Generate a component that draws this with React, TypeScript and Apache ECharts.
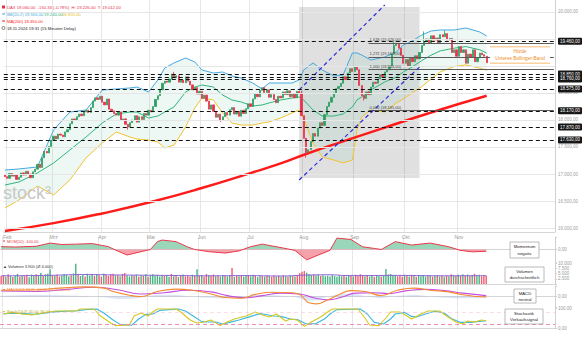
import React, { useEffect, useRef } from "react";
import * as echarts from "echarts";

// ---------- axis / category data ----------
const monthNames = ["Feb", "Mrz", "Apr", "Mai", "Jun", "Jul", "Aug", "Sep", "Okt", "Nov"];
const monthStart = [1, 21, 42, 63, 85, 106, 129, 151, 173, 196];
const SLOTS = 238;

// ---------- price data (daily closes) ----------
const firstOpen = 16980;
const closes = [
  16950, 16920, 17010, 16960, 16990, 16900, 16940, 17020, 16980, 17050,
  17000, 16930, 17040, 17090, 17180, 17120, 17300, 17420, 17390, 17510,
  17630, 17700, 17650, 17740, 17720, 17690, 17780, 17820, 17930, 18020,
  17990, 18060, 18110, 18080, 18150, 18180, 18140, 18230, 18350, 18410,
  18380, 18440, 18330, 18280, 18390, 18200, 18170, 18120, 18090, 18150,
  17990, 18020, 17920, 17870, 17950, 18000, 18080, 17960, 18060, 18010,
  18120, 18090, 18180, 18150, 18250, 18380, 18450, 18560, 18680, 18720,
  18700, 18760, 18850, 18780, 18820, 18700, 18740, 18690, 18800, 18720,
  18650, 18560, 18600, 18480, 18530, 18400, 18460, 18350, 18200, 18280,
  18160, 18050, 18110, 18000, 18060, 18140, 18090, 18190, 18230, 18110,
  18160, 18070, 18180, 18120, 18210, 18300, 18250, 18390, 18480, 18430,
  18550, 18600, 18510, 18560, 18420, 18470, 18380, 18320, 18440, 18410,
  18520, 18470, 18540, 18430, 18480, 18410, 18530, 18500, 18080, 17660,
  17400, 17450, 17600, 17750, 17700, 17850, 17950, 17900, 18100, 18250,
  18330, 18420, 18500, 18580, 18620, 18680, 18800, 18750, 18870, 18950,
  18900, 18980, 18930, 18640, 18450, 18400, 18520, 18470, 18610, 18700,
  18680, 18760, 18840, 18800, 18890, 18930, 19000, 19220, 19380, 19420,
  19330, 19200, 19050, 19120, 19000, 19150, 19080, 19190, 19130, 19250,
  19380, 19450, 19500, 19420, 19560, 19480, 19520, 19430, 19580, 19540,
  19600, 19480, 19510, 19250, 19300, 19180, 19360, 19250, 19300, 19050,
  19220, 19160, 19300, 19080, 19150, 19240, 19210, 19180, 19060,
];
const wickHighs = [[73, 18890], [128, 18540], [168, 19460], [181, 19640], [190, 19660]];
const wickLows = [[53, 17820], [93, 17960], [130, 17300], [155, 18360]];

const volumes = [
  3800, 4200, 3500, 4600, 3900, 3300, 4100, 4800, 3600, 4000,
  3700, 4400, 3200, 4500, 3900, 4700, 4300, 5200, 3800, 4600,
  4900, 7000, 4200, 3900, 4500, 3600, 4100, 4800, 4400, 3700,
  4200, 5000, 9600, 4400, 3800, 4300, 3600, 4900, 4100, 4500,
  3900, 4700, 4200, 3500, 5000, 4400, 3800, 4600, 4900, 4100,
  4300, 3700, 4800, 5200, 4000, 3600, 4200, 3900, 4500, 3400,
  4100, 3800, 4600, 3500, 4200, 4700, 3900, 4400, 3600, 4100,
  3800, 4300, 3500, 4800, 3700, 4200, 3400, 3900, 4500, 3600,
  4000, 3500, 4400, 3800, 7000, 3900, 4300, 3600, 4700, 4200,
  3800, 4500, 3700, 4100, 3500, 4300, 3900, 3600, 4200, 7600,
  3400, 4000, 3700, 4300, 3500, 3800, 4200, 3600, 4400, 3900,
  3300, 4100, 3700, 3500, 4200, 3800, 3400, 4000, 3600, 3900,
  3500, 4200, 3700, 3400, 4100, 3800, 3600, 4300, 5200, 5800,
  6200, 5400, 4800, 4300, 4600, 4000, 4400, 3900, 4200, 3700,
  4000, 3600, 4300, 3800, 3500, 4100, 3700, 3900, 3400, 4200,
  3800, 3600, 4400, 3900, 4700, 4100, 3700, 4300, 3600, 4000,
  3500, 4200, 3800, 3600, 4100, 7200, 4500, 4800, 3900, 4300,
  3700, 4100, 3500, 4400, 3800, 3600, 4200, 3900, 3500, 4000,
  3700, 4300, 3600, 3900, 4100, 3500, 3800, 4200, 3600, 3900,
  3500, 4000, 3700, 4600, 4200, 3800, 4400, 3900, 4700, 4100,
  4500, 3800, 4300, 4900, 4000, 4400, 3700, 4200, 3900,
];
const volumeAverage = [
  [0, 3900], [20, 4100], [35, 4500], [50, 4300], [70, 4100], [90, 3900], [105, 4000],
  [120, 3800], [130, 4200], [140, 4400], [150, 4000], [170, 4100], [190, 3900], [208, 4000],
];

// ---------- Bollinger bands (read) ----------
const bbIdx = [0, 6, 14, 21, 28, 35, 42, 48, 54, 57, 62, 66, 69, 73, 78, 82, 85, 90, 94, 98, 102, 107, 111, 114, 119, 124, 127, 129, 133, 137, 142, 146, 150, 152, 154, 158, 164, 169, 172, 175, 180, 184, 188, 194, 199, 205, 208];
const bbUpper = [17074, 17093, 17130, 17815, 18148, 18185, 18555, 18574, 18593, 18611, 18518, 18741, 18963, 19056, 19148, 19074, 18926, 18870, 18889, 18815, 18778, 18685, 18574, 18685, 18685, 18685, 18741, 18926, 19056, 18926, 18815, 18833, 19241, 19241, 19204, 19111, 19167, 19259, 19389, 19444, 19574, 19648, 19667, 19667, 19704, 19630, 19556];
const bbMiddle = [16796, 16852, 17019, 17204, 17444, 17685, 17944, 18110, 18148, 18148, 18037, 18074, 18148, 18241, 18518, 18611, 18648, 18611, 18463, 18370, 18333, 18259, 18278, 18315, 18370, 18407, 18426, 18370, 18185, 18074, 18074, 18111, 18241, 18370, 18426, 18556, 18704, 18796, 18890, 18960, 19100, 19200, 19280, 19330, 19360, 19300, 19240];
const bbLower = [16370, 16519, 16778, 16611, 16889, 17300, 17574, 17778, 17685, 17648, 17630, 17593, 17481, 17537, 17870, 18222, 18407, 18370, 18130, 17944, 17907, 17907, 17944, 17963, 18037, 18130, 18185, 18037, 17574, 17315, 17259, 17204, 17259, 17815, 18056, 18185, 18148, 18315, 18390, 18480, 18620, 18760, 18890, 18990, 19020, 18960, 18920];

const ma200 = [[0, 15944], [21, 16090], [42, 16270], [63, 16480], [85, 16740], [107, 17030], [120, 17210], [130, 17370], [145, 17590], [162, 17830], [184, 18140], [208, 18450]];

// ---------- indicators (read) ----------
const momentum = [[0, 160], [6, 140], [15, 180], [21, 360], [26, 280], [32, 300], [39, 330], [46, 160], [49, -30], [54, -310], [60, -120], [64, 0], [67, 440], [69, 530], [75, 440], [80, 140], [83, 0], [89, -120], [96, -200], [102, -80], [107, 160], [112, 300], [121, 80], [126, -50], [131, -580], [136, -310], [141, -50], [144, 640], [150, 560], [155, 150], [160, 60], [163, 0], [169, 440], [176, 250], [184, 360], [192, 150], [197, -50], [202, -130], [208, -100]];
const macdLine = [[0, 150], [15, 160], [25, 200], [36, 230], [44, 200], [48, 120], [55, 30], [60, 0], [67, 120], [75, 175], [82, 150], [90, 60], [96, -25], [103, -40], [109, 50], [116, 100], [124, 90], [128, 50], [132, -150], [135, -175], [140, -80], [145, 50], [150, 140], [156, 120], [163, 25], [170, 150], [177, 200], [184, 150], [192, 110], [198, 40], [204, 0], [208, -10]];
const macdSignal = [[0, 130], [15, 120], [28, 170], [40, 220], [50, 160], [60, 60], [70, 90], [80, 150], [90, 110], [97, 20], [105, -30], [112, 20], [120, 80], [128, 60], [134, -30], [140, -80], [146, -20], [152, 80], [160, 90], [166, 70], [174, 140], [182, 170], [190, 140], [198, 80], [208, 20]];
const macdHist = [[0, 20], [15, 40], [25, 30], [36, 10], [44, -20], [50, -60], [58, -50], [66, 40], [75, 40], [85, -20], [95, -50], [103, -20], [110, 40], [118, 30], [126, -10], [131, -100], [135, -100], [140, 0], [146, 70], [152, 60], [158, -10], [163, -40], [170, 20], [178, 40], [186, -10], [194, -40], [202, -40], [208, -30]];
const stochK = [[1, 70], [5, 78], [9, 70], [13, 65], [23, 85], [32, 85], [34, 95], [40, 95], [42, 65], [47, 25], [49, 12], [55, 15], [57, 60], [60, 75], [63, 60], [65, 80], [67, 95], [75, 95], [77, 80], [81, 40], [84, 25], [87, 30], [90, 40], [94, 12], [96, 25], [100, 45], [105, 60], [109, 80], [112, 65], [115, 55], [118, 70], [122, 35], [124, 45], [127, 40], [130, 8], [133, 30], [137, 55], [140, 80], [142, 95], [153, 95], [156, 50], [158, 15], [162, 12], [165, 50], [167, 80], [171, 80], [174, 60], [176, 45], [180, 70], [183, 85], [188, 85], [191, 60], [195, 30], [198, 20], [200, 35], [203, 30], [206, 40], [208, 35]];
const stochD = [[1, 72], [6, 74], [10, 72], [14, 68], [24, 82], [33, 86], [36, 92], [41, 95], [44, 75], [48, 40], [51, 18], [56, 14], [59, 45], [62, 68], [65, 70], [68, 88], [76, 95], [79, 85], [83, 55], [86, 32], [89, 30], [92, 30], [95, 20], [98, 28], [102, 40], [107, 58], [111, 72], [114, 66], [117, 60], [120, 58], [124, 45], [127, 42], [131, 20], [135, 22], [139, 48], [141, 70], [144, 92], [154, 95], [157, 70], [160, 28], [164, 20], [167, 45], [169, 70], [173, 78], [176, 58], [178, 55], [182, 70], [186, 84], [190, 75], [193, 48], [197, 28], [201, 28], [204, 32], [208, 36]];

// ---------- annotations ----------
const priceTicks = [16000, 16500, 17000, 17500, 18000, 18500, 19000, 19500, 20000];
const hiddenTickLabels = [19000, 19500];
const levels = [19460, 18850, 18800, 18760, 18575, 18170, 17870, 17630];
const hiddenLevelLabels = [18800];
const currentPrice = 19060;
const fibValues = [19426, 19167, 18944, 18185];
const fibTexts = ["1,618 (19.426,00)", "1,272 (19.167,00)", "1,000 (18.944,00)", "0,000 (18.185,00)"];
const fibRange = [157, 237];
const channelUpper = [[127, 18556], [164, 20130]];
const channelLower = [[127, 16889], [179, 18981]];
const shadedBox = [[127, 20093], [179, 16926]];

const FONT = "Liberation Sans, Arial, sans-serif";

function de(v: number, d = 2) {
  const s = v.toFixed(d);
  const [i, f] = s.split(".");
  const ii = i.replace(/\B(?=(\d{3})+(?!\d))/g, ".");
  return f ? ii + "," + f : ii;
}

export default function App() {
  const ref = useRef<HTMLDivElement>(null);
  useEffect(() => {
    document.body.style.margin = "0";
    const chart = echarts.init(ref.current!, null, { renderer: "svg" });

    const isMonth = Array.from({ length: SLOTS }, (_, i) => monthStart.indexOf(i) >= 0);
    const categories = Array.from({ length: SLOTS }, (_, i) => String(i));

    const candles = closes.map((c, i) => {
      const o = i === 0 ? firstOpen : closes[i - 1];
      let lo = Math.min(o, c);
      let hi = Math.max(o, c);
      const wh = wickHighs.find((w) => w[0] === i);
      const wl = wickLows.find((w) => w[0] === i);
      if (wh) hi = wh[1];
      if (wl) lo = wl[1];
      return [o, c, lo, hi];
    });
    const volBars = volumes.map((v, i) => ({
      value: v,
      itemStyle: { color: candles[i][1] >= candles[i][0] ? "#48b383" : "#ee5c72" },
    }));

    const grids = [
      { left: 0, right: 27, top: 0, height: 232 },
      { left: 0, right: 27, top: 237, height: 25 },
      { left: 0, right: 27, top: 263, height: 21 },
      { left: 0, right: 27, top: 286, height: 21 },
      { left: 0, right: 27, top: 308, height: 20 },
    ];
    const xAxis = grids.map((_, gi) => ({
      type: "category",
      gridIndex: gi,
      data: categories,
      boundaryGap: true,
      axisLine: { show: true, lineStyle: { color: "#d6d6d6", width: 1 } },
      axisTick: { show: false },
      axisLabel:
        gi === 0
          ? {
              show: true,
              interval: (i: number) => isMonth[i],
              formatter: (v: string) => {
                const k = monthStart.indexOf(Number(v));
                return k >= 0 ? monthNames[k] : "";
              },
              fontSize: 5,
              color: "#9a9a9a",
              margin: 2,
              fontFamily: FONT,
            }
          : { show: false },
      splitLine: { show: true, interval: (i: number) => isMonth[i], lineStyle: { color: "#e6e6e6", width: 1 } },
    }));
    const ax = (gi: number, min: number, max: number, interval: number | undefined, fmt: any, show = true) => ({
      type: "value",
      gridIndex: gi,
      position: "right",
      min,
      max,
      interval,
      axisLine: { show: true, lineStyle: { color: "#d0d0d0" } },
      axisTick: { show: show, length: 2, lineStyle: { color: "#cfcfcf" } },
      axisLabel: { show, formatter: fmt, fontSize: 4.5, color: "#9a9a9a", margin: 3, fontFamily: FONT },
      splitLine: { show: false },
    });
    const yAxis = [
      ax(0, 15926, 20222, undefined, () => "", false),
      ax(1, -700, 700, 700, (v: number) => (v === 0 ? "0,00" : "")),
      ax(2, 0, 10000, 2500, (v: number) => (v === 0 ? "" : de(v, 0))),
      ax(3, -250, 250, 250, (v: number) => (v === 0 ? "0,00" : "")),
      ax(4, 0, 100, 100, (v: number) => de(v, 2)),
    ];

    const levelLabel = (bg: string) => ({
      show: true,
      position: "end",
      distance: 3,
      backgroundColor: bg,
      color: "#ffffff",
      fontSize: 4.5,
      fontFamily: FONT,
      padding: [1, 2, 1, 2],
      borderRadius: 1,
    });

    const levelLines: any[] = levels.map((v) => ({
      yAxis: v,
      lineStyle: { color: "#111", type: [4, 3], width: 1 },
      label: hiddenLevelLabels.indexOf(v) >= 0 ? { show: false } : { ...levelLabel("#161616"), formatter: de(v) },
    }));
    levelLines.push({
      yAxis: currentPrice,
      lineStyle: { color: "#e6304b", opacity: 0, width: 0.5 },
      label: { ...levelLabel("#e6304b"), formatter: de(currentPrice) },
    });
    const segLines: any[] = [];
    fibValues.forEach((v, k) => {
      segLines.push([
        {
          coord: [fibRange[0], v],
          lineStyle: { color: "#5a5a5a", type: "solid", width: 1 },
          label: { show: true, position: "insideStartTop", formatter: fibTexts[k], fontSize: 4, color: "#444", distance: 1, fontFamily: FONT },
        },
        { coord: [fibRange[1], v] },
      ]);
    });
    [channelUpper, channelLower].forEach((ch) => {
      segLines.push([
        { coord: [ch[0][0], ch[0][1]], lineStyle: { color: "#2c2cdc", type: [4, 3], width: 1.2 }, label: { show: false } },
        { coord: [ch[1][0], ch[1][1]] },
      ]);
    });

    const series: any[] = [];
    const bbBase = bbIdx.map((ix, k) => [ix, bbLower[k]]);
    const bbWidth = bbIdx.map((ix, k) => [ix, bbUpper[k] - bbLower[k]]);
    series.push({
      type: "line",
      xAxisIndex: 0,
      yAxisIndex: 0,
      data: bbBase,
      stack: "bb",
      symbol: "none",
      lineStyle: { width: 0, opacity: 0 },
      silent: true,
      z: 1,
      markLine: {
        silent: true,
        symbol: ["none", "none"],
        lineStyle: { color: "#e6e6e6", type: "solid", width: 1 },
        label: { show: true, position: "end", distance: 3, fontSize: 4.5, color: "#a0a0a0", fontFamily: FONT },
        data: priceTicks.map((v) => ({
          yAxis: v,
          label: hiddenTickLabels.indexOf(v) >= 0 ? { show: false } : { show: true, formatter: de(v) },
        })),
      },
    });
    series.push({
      type: "line",
      xAxisIndex: 0,
      yAxisIndex: 0,
      data: bbWidth,
      stack: "bb",
      symbol: "none",
      lineStyle: { width: 0, opacity: 0 },
      areaStyle: { color: "rgba(130,205,175,0.2)" },
      silent: true,
      z: 1,
    });
    const bbLine = (vals: number[], color: string) => ({
      type: "line",
      xAxisIndex: 0,
      yAxisIndex: 0,
      data: bbIdx.map((ix, k) => [ix, vals[k]]),
      symbol: "none",
      lineStyle: { color, width: 1 },
      silent: true,
      z: 2,
    });
    series.push(bbLine(bbUpper, "#45a8e0"));
    series.push(bbLine(bbMiddle, "#2fb57c"));
    series.push(bbLine(bbLower, "#f2c230"));
    series.push({
      type: "line",
      xAxisIndex: 0,
      yAxisIndex: 0,
      data: ma200,
      smooth: true,
      symbol: "none",
      lineStyle: { color: "#ff1a1a", width: 2.5 },
      silent: true,
      z: 3,
      markArea: {
        silent: true,
        itemStyle: { color: "rgba(0,0,0,0.12)" },
        data: [[{ coord: [shadedBox[0][0], shadedBox[0][1]] }, { coord: [shadedBox[1][0], shadedBox[1][1]] }]],
      },
      markLine: {
        silent: true,
        symbol: ["none", "none"],
        label: { show: false },
        data: segLines,
      },
    });
    series.push({
      type: "candlestick",
      xAxisIndex: 0,
      yAxisIndex: 0,
      data: candles,
      barWidth: "75%",
      silent: true,
      z: 4,
      itemStyle: { color: "#2f9e62", color0: "#e8334a", borderColor: "#2f9e62", borderColor0: "#e8334a", borderWidth: 0.8 },
      markLine: {
        silent: true,
        symbol: ["none", "none"],
        label: { show: false },
        data: levelLines,
      },
    });
    const momAreaIndex = series.length;
    series.push({
      type: "line",
      xAxisIndex: 1,
      yAxisIndex: 1,
      data: momentum,
      symbol: "none",
      lineStyle: { width: 0 },
      areaStyle: { opacity: 0.75 },
      silent: true,
    });
    series.push({
      type: "line",
      xAxisIndex: 1,
      yAxisIndex: 1,
      data: momentum,
      symbol: "none",
      lineStyle: { color: "#e8394a", width: 1 },
      silent: true,
    });
    series.push({ type: "bar", xAxisIndex: 2, yAxisIndex: 2, data: volBars, barWidth: "60%", silent: true });
    series.push({
      type: "line",
      xAxisIndex: 2,
      yAxisIndex: 2,
      data: volumeAverage,
      smooth: true,
      symbol: "none",
      lineStyle: { color: "#8b63d9", width: 1 },
      silent: true,
    });
    series.push({
      type: "line",
      xAxisIndex: 3,
      yAxisIndex: 3,
      data: macdHist,
      symbol: "none",
      lineStyle: { width: 0 },
      areaStyle: { color: "rgba(110,150,225,0.35)" },
      silent: true,
    });
    series.push({
      type: "line",
      xAxisIndex: 3,
      yAxisIndex: 3,
      data: macdSignal,
      smooth: true,
      symbol: "none",
      lineStyle: { color: "#c44fe0", width: 1.1 },
      silent: true,
    });
    series.push({
      type: "line",
      xAxisIndex: 3,
      yAxisIndex: 3,
      data: macdLine,
      smooth: true,
      symbol: "none",
      lineStyle: { color: "#f58a30", width: 1.1 },
      silent: true,
    });
    series.push({
      type: "line",
      xAxisIndex: 4,
      yAxisIndex: 4,
      data: stochD,
      symbol: "none",
      lineStyle: { color: "#3db8e2", width: 1.1 },
      silent: true,
      markLine: {
        silent: true,
        symbol: ["none", "none"],
        label: { show: false },
        data: [
          { yAxis: 20, lineStyle: { color: "#f08db0", type: [4, 3], width: 1 } },
          { yAxis: 80, lineStyle: { color: "#f6c6d6", type: [4, 3], width: 0.6 } },
        ],
      },
    });
    series.push({
      type: "line",
      xAxisIndex: 4,
      yAxisIndex: 4,
      data: stochK,
      symbol: "none",
      lineStyle: { color: "#d6c81e", width: 1.1 },
      silent: true,
    });

    const txt = (x: number, y: number, text: string, fill: string, size = 4.5, align = "left", extra: any = {}) => ({
      type: "text",
      x,
      y,
      silent: true,
      z: 100,
      style: { text, fill, fontSize: size, fontFamily: FONT, textAlign: align, textVerticalAlign: "middle", ...extra },
    });
    const box = (x: number, y: number, w: number, h: number, l1: string, l2: string) => [
      { type: "rect", shape: { x, y, width: w, height: h }, style: { fill: "#ffffff", stroke: "#a8a8a8", lineWidth: 0.8 }, z: 99, silent: true },
      txt(x + w / 2, y + h * 0.3, l1, "#222", 4.3, "center"),
      txt(x + w / 2, y + h * 0.72, l2, "#222", 4.3, "center"),
    ];

    const graphic: any[] = [
      { type: "rect", shape: { x: 2, y: 5.5, width: 3, height: 3 }, style: { fill: "#e6304b" }, silent: true },
      txt(7, 7, "DAX 19.060,00  -150,33 (-0,78%)  H: 19.226,00  T: 19.012,00", "#e6304b", 4.2),
      { type: "line", shape: { x1: 2, y1: 14, x2: 5, y2: 14 }, style: { stroke: "#45a8e0", lineWidth: 1 }, silent: true },
      txt(7, 14, "BB(20;2) 19.556,00", "#45a8e0", 4.2),
      txt(44, 14, "19.240,00", "#2fb57c", 4.2),
      txt(62, 14, "18.920,00", "#e8b820", 4.2),
      { type: "line", shape: { x1: 2, y1: 21, x2: 5, y2: 21 }, style: { stroke: "#ff1a1a", lineWidth: 1 }, silent: true },
      txt(7, 21, "MA(200) 18.450,00", "#ff1a1a", 4.2),
      { type: "circle", shape: { cx: 3.5, cy: 28, r: 1.5 }, style: { fill: "none", stroke: "#222", lineWidth: 0.6 }, silent: true },
      txt(7, 28, "18.11.2024 19:31 (15 Minuten Delay)", "#222", 4.2),
      txt(3, 193, "stock³", "#c8c8c8", 18),
      { type: "line", shape: { x1: 490, y1: 47, x2: 550, y2: 47 }, style: { stroke: "#f5a540", lineWidth: 1 }, silent: true },
      { type: "line", shape: { x1: 490, y1: 63, x2: 550, y2: 63 }, style: { stroke: "#f5a540", lineWidth: 1 }, silent: true },
      { type: "rect", shape: { x: 490, y: 47.5, width: 60, height: 15 }, style: { fill: "#ffffff" }, silent: true, z: 98 },
      txt(520, 51.5, "Hürde", "#f08c1a", 4.8, "center"),
      txt(520, 58.5, "Unteres Bollinger-Band", "#f08c1a", 4.8, "center"),
      { type: "line", shape: { x1: 2, y1: 241, x2: 5, y2: 241 }, style: { stroke: "#e8394a", lineWidth: 1 }, silent: true },
      txt(7, 241, "MOM(10) -100,00", "#e8394a", 4),
      txt(3, 266.5, "▲ Volumen 3.900 (Ø 4.000)", "#333", 4),
      { type: "line", shape: { x1: 2, y1: 289.5, x2: 5, y2: 289.5 }, style: { stroke: "#f58a30", lineWidth: 1 }, silent: true },
      txt(7, 289.5, "MACD(12;26;9) -10,00 20,00 -30,00", "#f58a30", 4),
      { type: "line", shape: { x1: 2, y1: 311.5, x2: 5, y2: 311.5 }, style: { stroke: "#d6c81e", lineWidth: 1 }, silent: true },
      txt(7, 311.5, "Stoch(14;3) 35,00 36,00", "#b5b01a", 4),
      ...box(510, 242, 29, 16, "Momentum", "negativ"),
      ...box(505, 267, 39, 15, "Volumen", "durchschnittlich"),
      ...box(514, 289, 22, 14, "MACD", "neutral"),
      ...box(505, 309, 38, 15, "Stochastik", "Verkaufssignal"),
    ];

    chart.setOption({
      animation: false,
      backgroundColor: "#ffffff",
      textStyle: { fontFamily: FONT },
      grid: grids,
      xAxis,
      yAxis,
      visualMap: [
        {
          type: "piecewise",
          show: false,
          seriesIndex: momAreaIndex,
          dimension: 1,
          pieces: [
            { min: -5000, max: 0, color: "#f2828f" },
            { min: 0, max: 5000, color: "#78c9a2" },
          ],
        },
      ],
      series,
      graphic,
    });
    return () => chart.dispose();
  }, []);
  return <div ref={ref} style={{ position: "absolute", left: 0, top: 0, width: 582, height: 353 }} />;
}
